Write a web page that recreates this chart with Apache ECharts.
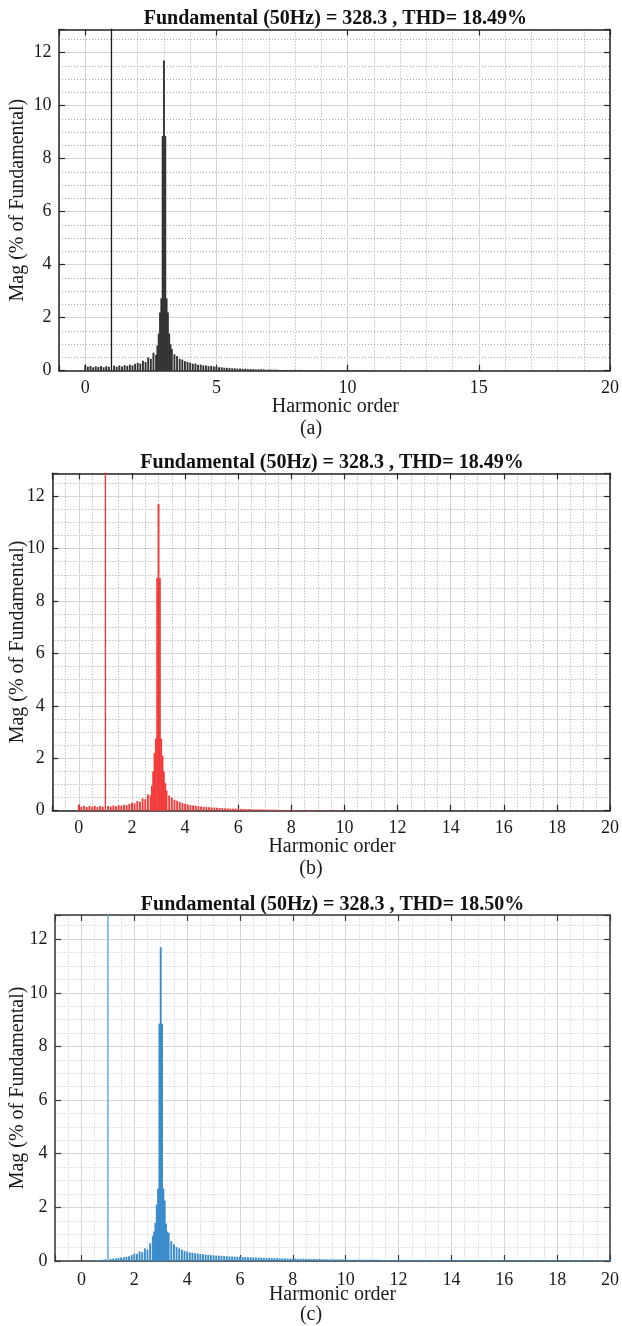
<!DOCTYPE html>
<html><head><meta charset="utf-8">
<script src="https://cdn.jsdelivr.net/npm/echarts@6/dist/echarts.min.js"></script>
<style>html,body{margin:0;padding:0;background:#fff}#c{width:622px;height:1326px}</style>
</head><body><div id="c"></div>
<script>
// ---------- data ----------
const titles = [
  'Fundamental (50Hz) = 328.3 , THD= 18.49%',
  'Fundamental (50Hz) = 328.3 , THD= 18.49%',
  'Fundamental (50Hz) = 328.3 , THD= 18.50%'
];
const captions = ['(a)', '(b)', '(c)'];
const xName = 'Harmonic order';
const yName = 'Mag (% of Fundamental)';

const combStep = 0.1; // harmonic-order spacing of the comb bins (starting at order 0)
const fundamentalOrder = 1;
const fundamentalMag = 100;

// comb magnitudes (% of fundamental), bins 0.0, 0.1, 0.2, ...
const combA = [
  0.22,0.15,0.18,0.13,0.17,0.14,0.18,0.13,0.17,0.15,
  0,0.19,0.15,0.20,0.16,0.21,0.18,0.23,0.20,0.26,
  0.30,0.27,0.38,0.33,0.50,0.45,0.68,0.60,0,0,
  0,0,0,0.82,0.62,0.55,0.45,0.42,0.36,0.33,
  0.30,0.26,0.27,0.22,0.23,0.20,0.20,0.17,0.18,0.16,
  0.15,0.13,0.13,0.11,0.11,0.10,0.09,0.09,0.08,0.08,
  0.07,0.07,0.06,0.06,0.06,0.05,0.05,0.05,0.05,0.04,
  0.04,0.04,0.04,0.04,0.03,0.03,0.03,0.03,0.03,0.03,
  0.03,0.03,0.03,0.02,0.02,0.02,0.02,0.02,0.02,0.02,
  0.02,0.02,0.02,0.02,0.02,0.02,0.02,0.02,0.02,0.02,
  0.02,0.02,0.01,0.01,0.01,0.01,0.01,0.01,0.01,0.01
];
const combB = [
  0.23,0.15,0.19,0.14,0.18,0.15,0.19,0.14,0.18,0.16,
  0,0.18,0.16,0.20,0.17,0.21,0.19,0.23,0.21,0.26,
  0.30,0.28,0.37,0.34,0.47,0.44,0.62,0.58,0,0,
  0,0,0,0.78,0.58,0.50,0.42,0.38,0.33,0.30,
  0.26,0.24,0.22,0.20,0.19,0.18,0.16,0.15,0.14,0.13,
  0.12,0.12,0.11,0.10,0.10,0.09,0.09,0.08,0.08,0.08,
  0.07,0.07,0.07,0.06,0.06,0.06,0.05,0.05,0.05,0.05,
  0.04,0.04,0.04,0.04,0.04,0.03,0.03,0.03,0.03,0.03,
  0.02,0.02,0.02,0.02,0.02,0.02,0.02,0.02,0.02,0.02,
  0.01,0.01,0.01,0.01,0.01,0.01,0.01,0.01,0.01,0.01
];
const combC = [
  0,0,0,0,0.01,0.02,0.03,0.04,0.05,0.06,
  0,0.08,0.09,0.10,0.11,0.13,0.14,0.16,0.18,0.22,
  0.28,0.26,0.36,0.33,0.47,0.42,0.66,0.93,0,0,
  0,0,0,1.05,0.74,0.62,0.52,0.47,0.42,0.38,
  0.35,0.32,0.31,0.29,0.28,0.26,0.25,0.24,0.23,0.22,
  0.21,0.20,0.20,0.19,0.18,0.18,0.17,0.17,0.16,0.16,
  0.15,0.15,0.15,0.14,0.14,0.13,0.13,0.13,0.12,0.12,
  0.12,0.11,0.11,0.11,0.10,0.10,0.10,0.10,0.09,0.09,
  0.09,0.09,0.08,0.08,0.08,0.08,0.08,0.07,0.07,0.07,
  0.07,0.07,0.07,0.06,0.06,0.06,0.06,0.06,0.06,0.06,
  0.06,0.05,0.05,0.05,0.05,0.05,0.05,0.05,0.05,0.05,
  0.05,0.05,0.05,0.04,0.04,0.04,0.04,0.04,0.04,0.04,
  0.04,0.04,0.04,0.04,0.04,0.04,0.04,0.04,0.04,0.04,
  0.04,0.04,0.04,0.04,0.04,0.035,0.035,0.035,0.035,0.035,
  0.035,0.035,0.035,0.035,0.035,0.035,0.035,0.035,0.035,0.035,
  0.03,0.03,0.03,0.03,0.03,0.03,0.03,0.03,0.03,0.03,
  0.03,0.03,0.03,0.03,0.03,0.03,0.03,0.03,0.03,0.03,
  0.03,0.03,0.03,0.03,0.03,0.03,0.03,0.03,0.03,0.03,
  0.03,0.03,0.03,0.03,0.03,0.025,0.025,0.025,0.025,0.025,
  0.025,0.025,0.025,0.025,0.025,0.025,0.025,0.025,0.025,0.025,
  0.025
];

// fine bins around the 3rd harmonic
const peakOrders = [2.75,2.8,2.85,2.9,2.95,3.0,3.05,3.1,3.15,3.2,3.25];
const peakA = [0.95,1.40,2.20,2.73,8.85,11.70,8.85,2.73,2.20,1.40,1.00];
const peakB = [0.95,1.50,2.20,2.75,8.88,11.70,8.88,2.75,2.10,1.50,1.05];
const peakC = [1.10,1.42,2.10,2.70,8.85,11.70,8.85,2.70,2.25,1.40,1.10];

// ---------- layout / style ----------
const FONT = '"Liberation Serif","Times New Roman",serif';
const panels = [
  {grid:{left:59,top:29.5,width:552.7,height:341.2}, xMajor:5, xMinorN:5, yMax:12.87,
   bar:'#333333', fund:'#1a1a1a', comb:combA, peak:peakA, axis:'#262626',
   major:'#d4d4d4', minor:'#a8a8a8', minorType:[1,2], titleY:18.5, xNameY:406.7, capY:429, lblMargin:9},
  {grid:{left:52.3,top:473.3,width:559.4,height:337.4}, xMajor:2, xMinorN:4, yMax:12.87,
   bar:'#f23c3c', fund:'#ff3030', comb:combB, peak:peakB, axis:'#262626',
   major:'#d4d4d4', minor:'#a8a8a8', minorType:[1,2], titleY:463, xNameY:847, capY:869, lblMargin:9},
  {grid:{left:55,top:915,width:555,height:346}, xMajor:2, xMinorN:4, yMax:12.9,
   bar:'#3a8bcc', fund:'#5aa6de', comb:combC, peak:peakC, axis:'#3a3a3a',
   major:'#d6d6d6', minor:'#e2e2e2', minorType:[2,1], titleY:905, xNameY:1295, capY:1315, lblMargin:10}
];

function isMultiple(v, m){ return Math.abs(v/m - Math.round(v/m)) < 1e-6; }

const grids=[], xAxes=[], yAxes=[], series=[], graphics=[];
panels.forEach((p, i) => {
  grids.push(Object.assign({containLabel:false}, p.grid));
  const splitMajor = {show:true, lineStyle:{color:p.major, width:1, type:'solid'}};
  const splitMinor = {show:true, lineStyle:{color:p.minor, width:1, type:p.minorType}};
  const axLine = {show:true, onZero:false, lineStyle:{color:p.axis, width:1.5}};
  const xBase = {gridIndex:i, type:'value', min:-1, max:20, splitNumber:Math.round(21/p.xMajor),
    minInterval:p.xMajor, maxInterval:p.xMajor, axisLine:axLine,
    axisTick:{show:true, inside:true, length:6, lineStyle:{color:p.axis, width:1.2}},
    minorTick:{show:false, splitNumber:p.xMinorN}};
  xAxes.push(Object.assign({}, xBase, {position:'bottom',
    axisLabel:{show:true, margin:p.lblMargin, color:'#1a1a1a', fontFamily:FONT, fontSize:18,
      formatter:v => (isMultiple(v,p.xMajor) && v>=0) ? String(v) : ''},
    splitLine:splitMajor, minorSplitLine:splitMinor}));
  xAxes.push(Object.assign({}, xBase, {position:'top', axisLabel:{show:false},
    splitLine:{show:false}, minorSplitLine:{show:false}}));
  const yBase = {gridIndex:i, type:'value', min:0, max:p.yMax, splitNumber:6,
    minInterval:2, maxInterval:2, axisLine:axLine,
    axisTick:{show:true, inside:true, length:6, lineStyle:{color:p.axis, width:1.2}},
    minorTick:{show:false, splitNumber:4}};
  yAxes.push(Object.assign({}, yBase, {position:'left',
    axisLabel:{show:true, margin:7.5, color:'#1a1a1a', fontFamily:FONT, fontSize:18,
      formatter:v => isMultiple(v,2) ? String(v) : ''},
    splitLine:splitMajor, minorSplitLine:splitMinor}));
  yAxes.push(Object.assign({}, yBase, {position:'right', axisLabel:{show:false},
    splitLine:{show:false}, minorSplitLine:{show:false}}));

  const pts = p.comb.map((v,k) => [Math.round(k*combStep*100)/100, v]);
  peakOrders.forEach((o,k) => pts.push([o, p.peak[k]]));
  pts.sort((a,b) => a[0]-b[0]);
  series.push({type:'bar', xAxisIndex:2*i, yAxisIndex:2*i, data:pts, barWidth:1.9,
    itemStyle:{color:p.bar}, clip:true, silent:true, z:3});
  series.push({type:'line', xAxisIndex:2*i, yAxisIndex:2*i,
    data:[[fundamentalOrder,0],[fundamentalOrder,fundamentalMag]], symbol:'none',
    itemStyle:{color:p.fund}, lineStyle:{color:p.fund, width:1.3}, clip:true, silent:true, z:4});

  const cx = p.grid.left + p.grid.width/2;
  const cy = p.grid.top + p.grid.height/2;
  graphics.push({type:'text', x:cx, y:p.titleY, silent:true,
    style:{text:titles[i], font:'bold 20px '+FONT, fill:'#111', align:'center', verticalAlign:'middle'}});
  graphics.push({type:'text', x:18, y:cy, rotation:Math.PI/2, silent:true,
    style:{text:yName, font:'20px '+FONT, fill:'#1a1a1a', align:'center', verticalAlign:'middle'}});
  graphics.push({type:'text', x:cx, y:p.xNameY, silent:true,
    style:{text:xName, font:'20px '+FONT, fill:'#1a1a1a', align:'center', verticalAlign:'middle'}});
  graphics.push({type:'text', x:311, y:p.capY, silent:true,
    style:{text:captions[i], font:'20px '+FONT, fill:'#1a1a1a', align:'center', verticalAlign:'middle'}});
});

const chart = echarts.init(document.getElementById('c'), null, {renderer:'canvas'});
chart.setOption({animation:false, backgroundColor:'#fff', grid:grids, xAxis:xAxes, yAxis:yAxes,
  series:series, graphic:graphics});
</script></body></html>
